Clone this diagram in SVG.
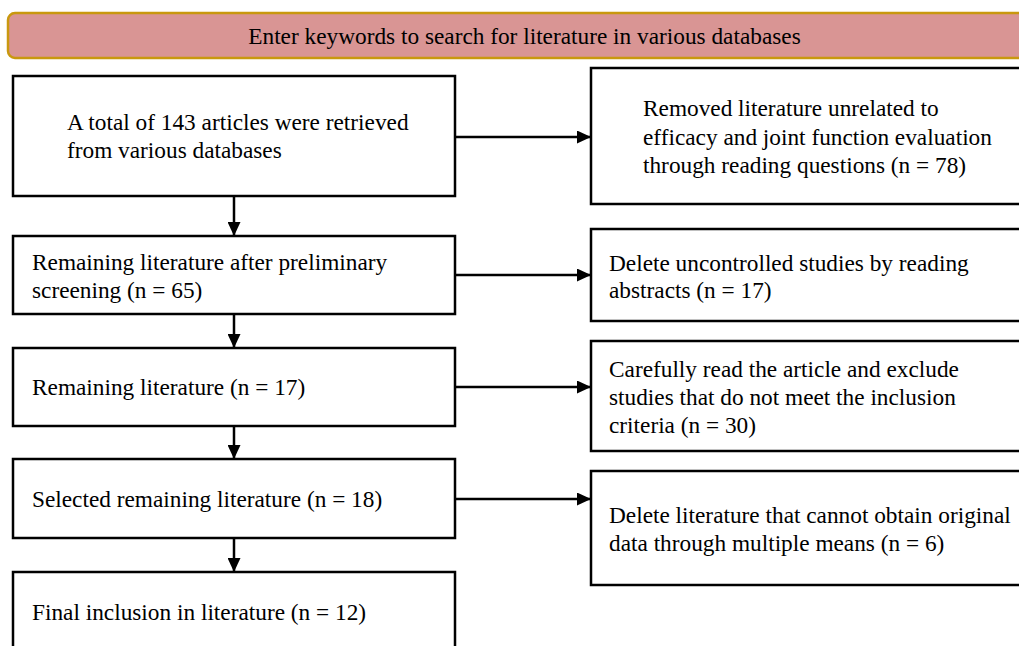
<svg xmlns="http://www.w3.org/2000/svg" width="1019" height="646" viewBox="0 0 1019 646">
<style>
  .box { fill: #ffffff; stroke: #000000; stroke-width: 2.5; }
  .banner { fill: #d99594; stroke: #c9980f; stroke-width: 2.5; }
  .t { font-family: "Liberation Serif", "Times New Roman", serif; font-size: 23.3px; fill: #000000; }
  .c { text-anchor: middle; }
  .conn { stroke: #000000; stroke-width: 2.5; fill: none; }
</style>
<defs>
  <marker id="ah" markerUnits="userSpaceOnUse" markerWidth="15" markerHeight="13" refX="14" refY="6.5" orient="auto">
    <path d="M0,0 L14,6.5 L0,13 z" fill="#000000"/>
  </marker>
</defs>
<rect width="1019" height="646" fill="#ffffff"/>

<g id="banner">
  <rect class="banner" x="8" y="13" width="1040" height="45" rx="7" ry="7"/>
  <text class="t c" x="524.5" y="44">Enter keywords to search for literature in various databases</text>
</g>

<g id="n1">
  <rect class="box" x="13" y="76" width="442" height="120"/>
  <text class="t" x="67" y="130">A total of 143 articles were retrieved</text>
  <text class="t" x="67" y="158">from various databases</text>
</g>

<g id="r1">
  <rect class="box" x="591" y="68" width="460" height="136"/>
  <text class="t" x="643" y="116">Removed literature unrelated to</text>
  <text class="t" x="643" y="145">efficacy and joint function evaluation</text>
  <text class="t" x="643" y="173">through reading questions (n = 78)</text>
</g>

<g id="n2">
  <rect class="box" x="13" y="236" width="442" height="78"/>
  <text class="t" x="32" y="270">Remaining literature after preliminary</text>
  <text class="t" x="32" y="298">screening (n = 65)</text>
</g>

<g id="r2">
  <rect class="box" x="591" y="229" width="460" height="92"/>
  <text class="t" x="609" y="271">Delete uncontrolled studies by reading</text>
  <text class="t" x="609" y="298">abstracts (n = 17)</text>
</g>

<g id="n3">
  <rect class="box" x="13" y="348" width="442" height="78"/>
  <text class="t" x="32" y="395">Remaining literature (n = 17)</text>
</g>

<g id="r3">
  <rect class="box" x="591" y="341" width="460" height="110"/>
  <text class="t" x="609" y="377">Carefully read the article and exclude</text>
  <text class="t" x="609" y="405">studies that do not meet the inclusion</text>
  <text class="t" x="609" y="433">criteria (n = 30)</text>
</g>

<g id="n4">
  <rect class="box" x="13" y="459" width="442" height="79"/>
  <text class="t" x="32" y="507">Selected remaining literature (n = 18)</text>
</g>

<g id="r4">
  <rect class="box" x="591" y="471" width="460" height="114"/>
  <text class="t" x="609" y="523">Delete literature that cannot obtain original</text>
  <text class="t" x="609" y="551">data through multiple means (n = 6)</text>
</g>

<g id="n5">
  <rect class="box" x="13" y="572" width="442" height="100"/>
  <text class="t" x="32" y="620">Final inclusion in literature (n = 12)</text>
</g>

<g id="connectors">
  <line class="conn" x1="234" y1="196" x2="234" y2="236" marker-end="url(#ah)"/>
  <line class="conn" x1="234" y1="314" x2="234" y2="348" marker-end="url(#ah)"/>
  <line class="conn" x1="234" y1="426" x2="234" y2="459" marker-end="url(#ah)"/>
  <line class="conn" x1="234" y1="538" x2="234" y2="572" marker-end="url(#ah)"/>
  <line class="conn" x1="455" y1="137" x2="591" y2="137" marker-end="url(#ah)"/>
  <line class="conn" x1="455" y1="275" x2="591" y2="275" marker-end="url(#ah)"/>
  <line class="conn" x1="455" y1="387" x2="591" y2="387" marker-end="url(#ah)"/>
  <line class="conn" x1="455" y1="499" x2="591" y2="499" marker-end="url(#ah)"/>
</g>
</svg>
